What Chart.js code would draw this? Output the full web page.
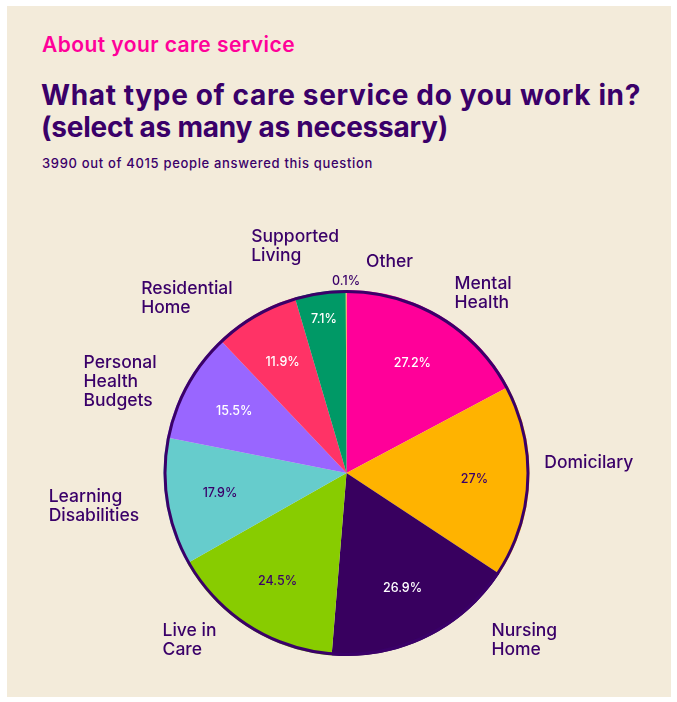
<!DOCTYPE html>
<html>
<head>
<meta charset="utf-8">
<script src="https://cdn.jsdelivr.net/npm/chart.js@4/dist/chart.umd.min.js"></script>
<style>
  html, body { margin: 0; padding: 0; background: #ffffff; }
  body { width: 677px; height: 702px; position: relative; overflow: hidden; font-family: Inter, Lato, sans-serif; }
  #panel { position: absolute; left: 7px; top: 6px; width: 664px; height: 691px; background: #F3EBDA; }
  .hd { position: absolute; white-space: nowrap; color: #3A0069; }
  #kicker { left: 42px; top: 32px; font-size: 21px; font-weight: 600; color: #FF0099; }
  #title1 { left: 41px; top: 79px; font-size: 28px; font-weight: 700; line-height: 32px; }
  #title2 { left: 41px; top: 111px; font-size: 28px; font-weight: 700; line-height: 32px; }
  #sub { left: 42px; top: 155px; font-size: 13px; font-weight: 500; }
  #wrap { position: absolute; left: 0; top: 0; width: 677px; height: 702px; }
</style>
</head>
<body>
<div id="panel"></div>
<div id="kicker" class="hd" data-w="253">About your care service</div>
<div id="title1" class="hd" data-w="600">What type of care service do you work in?</div>
<div id="title2" class="hd" data-w="407">(select as many as necessary)</div>
<div id="sub" class="hd" data-w="331">3990 out of 4015 people answered this question</div>
<div id="wrap"><canvas id="c"></canvas></div>
<script>
// ---- data ----
const categories = ['Mental Health', 'Domicilary', 'Nursing Home', 'Live in Care', 'Learning Disabilities',
  'Personal Health Budgets', 'Residential Home', 'Supported Living', 'Other'];
const labelLines = [['Mental', 'Health'], ['Domicilary'], ['Nursing', 'Home'], ['Live in', 'Care'],
  ['Learning', 'Disabilities'], ['Personal', 'Health', 'Budgets'], ['Residential', 'Home'], ['Supported', 'Living'], ['Other']];
const shares = [27.2, 27, 26.9, 24.5, 17.9, 15.5, 11.9, 7.1, 0.1];

// ---- styles ----
const sliceColours = ['#FF0099', '#FFB300', '#38005F', '#88CC00', '#66CCCC', '#9966FF', '#FF3366', '#009966', '#FFCC33'];
const valueTextColours = ['#FFFFFF', '#3A0069', '#FFFFFF', '#3A0069', '#3A0069', '#FFFFFF', '#FFFFFF', '#FFFFFF', '#3A0069'];
const labelNudge = {
  'Domicilary': [-12, -20], 'Nursing Home': [53, -22], 'Live in Care': [-17, -10],
  'Personal Health Budgets': [-6, 10], 'Residential Home': [-9, 7], 'Supported Living': [23, -19], 'Other': [67, -1]
};

// fit header widths to the reference via letter-spacing
document.querySelectorAll('.hd').forEach(el => {
  const target = +el.dataset.w;
  const n = el.textContent.length;
  const w = el.getBoundingClientRect().width;
  el.style.letterSpacing = ((target - w) / n).toFixed(3) + 'px';
});

const pieDecor = {
  id: 'pieDecor',
  afterDatasetsDraw(chart, args, opts) {
    const arcs = chart.getDatasetMeta(0).data;
    if (!arcs.length) return;
    const ctx = chart.ctx;
    const first = arcs[0].getProps(['x', 'y', 'outerRadius'], true);
    const cx = first.x, cy = first.y, R = first.outerRadius;
    ctx.save();
    ctx.beginPath();
    ctx.arc(cx, cy, R - opts.ringWidth / 2, 0, Math.PI * 2);
    ctx.lineWidth = opts.ringWidth;
    ctx.strokeStyle = opts.ringColour;
    ctx.stroke();

    const data = chart.data.datasets[0].data;
    const total = data.reduce((a, b) => a + b, 0);
    arcs.forEach((arc, i) => {
      const p = arc.getProps(['startAngle', 'endAngle'], true);
      const mid = (p.startAngle + p.endAngle) / 2;
      const frac = data[i] / total;
      let r = R * 0.7;
      if (frac < 0.05) r = R * 0.85;
      if (frac < 0.01) r = R + 9;
      const vx = cx + Math.cos(mid) * r, vy = cy + Math.sin(mid) * r;
      ctx.font = opts.valueFont;
      ctx.fillStyle = valueTextColours[i];
      ctx.textAlign = 'center';
      ctx.textBaseline = 'middle';
      ctx.fillText(data[i] + '%', vx, vy);

      const lines = labelLines[i];
      ctx.font = opts.labelFont;
      const w = Math.max(...lines.map(s => ctx.measureText(s).width));
      const lr = R + opts.labelGap;
      const ax = cx + Math.cos(mid) * lr;
      let ay = cy + Math.sin(mid) * lr;
      const rightSide = Math.cos(mid) > 0;
      let left = rightSide ? ax : ax - w;
      const n = (labelNudge[categories[i]] || [0, 0]);
      left += n[0]; ay += n[1];
      const lh = opts.lineHeight;
      const y0 = ay - (lines.length - 1) * lh / 2;
      ctx.fillStyle = opts.labelColour;
      ctx.textAlign = 'left';
      lines.forEach((s, k) => ctx.fillText(s, left, y0 + k * lh));
    });
    ctx.restore();
  }
};

new Chart(document.getElementById('c'), {
  type: 'pie',
  data: {
    labels: categories,
    datasets: [{ data: shares, backgroundColor: sliceColours, borderWidth: 0 }]
  },
  options: {
    responsive: true,
    maintainAspectRatio: false,
    animation: false,
    layout: { padding: { left: 163.5, right: 147.5, top: 290, bottom: 46 } },
    plugins: {
      legend: { display: false },
      tooltip: { enabled: false },
      pieDecor: {
        ringWidth: 3, ringColour: '#3A0069', labelGap: 27, lineHeight: 19, labelColour: '#3A0069',
        labelFont: '500 17.5px Inter, Lato, sans-serif', valueFont: '500 12.5px Inter, Lato, sans-serif'
      }
    }
  },
  plugins: [pieDecor]
});
</script>
</body>
</html>
